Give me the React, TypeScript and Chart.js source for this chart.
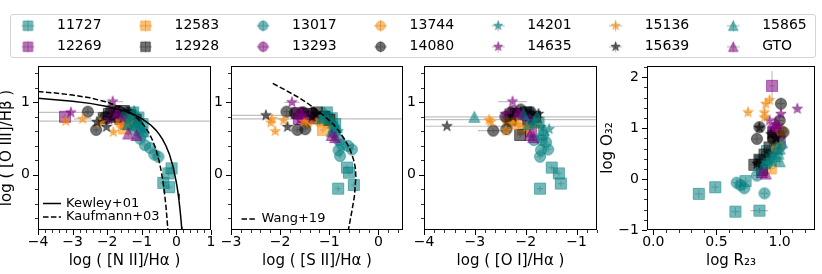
import React, { useEffect, useRef } from 'react';
import { Chart, registerables } from 'chart.js';

Chart.register(...registerables);

const FONT = 'DejaVu Sans';

// ---------------- DATA ----------------
const SERIES = ['11727', '12269', '12583', '12928', '13017', '13293', '13744', '14080', '14201', '14635', '15136', '15639', '15865', 'GTO'];

// points: [x, y, xerr?, yerr?] one list per series (same order as SERIES)
const NII_O3: number[][][] = [
  [[-0.14, 0.09], [-0.23, 0.02], [-0.38, -0.11], [-0.21, -0.17], [-1.25, 0.86], [-1.1, 0.79], [-0.98, 0.7], [-1.35, 0.78]],
  [[-3.22, 0.8], [-1.62, 0.77], [-1.45, 0.7]],
  [[-1.51, 0.64], [-1.28, 0.72]],
  [[-1.95, 0.84], [-1.72, 0.8], [-1.52, 0.88], [-1.35, 0.82], [-1.18, 0.76], [-2.1, 0.78]],
  [[-1.2, 0.62], [-1.05, 0.5], [-0.91, 0.41], [-0.76, 0.37], [-0.64, 0.28], [-0.52, 0.25], [-0.98, 0.57], [-1.3, 0.68]],
  [[-1.8, 0.87], [-1.48, 0.8]],
  [[-1.62, 0.72], [-1.4, 0.76]],
  [[-2.56, 0.87], [-2.32, 0.62], [-1.88, 0.9], [-1.66, 0.88], [-1.42, 0.86], [-2.05, 0.8]],
  [[-1.42, 0.74], [-1.12, 0.68], [-0.98, 0.64], [-1.25, 0.8]],
  [[-3.05, 0.86, 1.13, 0.04], [-1.84, 1.01, 0.3, 0.04], [-1.75, 0.82], [-1.55, 0.78], [-1.95, 0.76]],
  [[-3.2, 0.74, 4.5, 0.03], [-2.71, 0.77, 0.25, 0.03], [-1.82, 0.59], [-2.2, 0.72]],
  [[-2.3, 0.73], [-2.02, 0.66], [-1.85, 0.78], [-1.62, 0.84]],
  [[-1.5, 0.86], [-1.32, 0.8], [-1.15, 0.73], [-1.05, 0.66], [-1.22, 0.88], [-1.4, 0.7], [-0.95, 0.6]],
  [[-1.39, 0.57], [-1.15, 0.55], [-1.7, 0.86]],
];

const SII_O3: number[][][] = [
  [[-0.64, 0.1], [-0.6, 0.03], [-0.5, -0.14], [-0.82, -0.19], [-1.05, 0.86], [-0.95, 0.78], [-0.88, 0.7], [-1.12, 0.8]],
  [[-1.66, 0.85], [-1.5, 0.8], [-1.62, 0.77]],
  [[-1.13, 0.62], [-1.0, 0.72]],
  [[-1.42, 0.84], [-1.25, 0.86], [-1.1, 0.8], [-1.0, 0.76], [-1.3, 0.78]],
  [[-0.81, 0.48], [-0.54, 0.35], [-0.78, 0.26], [-0.81, 0.34], [-0.75, 0.42], [-0.62, 0.4], [-0.9, 0.58]],
  [[-1.55, 0.86], [-1.35, 0.8]],
  [[-1.45, 0.72], [-1.2, 0.74]],
  [[-1.87, 0.87], [-1.65, 0.62], [-1.49, 0.63], [-1.53, 0.86], [-1.34, 0.85], [-1.7, 0.85]],
  [[-1.05, 0.74], [-0.9, 0.66], [-0.82, 0.6], [-1.15, 0.8]],
  [[-1.76, 1.0, 0.15, 0.04], [-1.56, 0.82], [-1.4, 0.8], [-1.6, 0.76]],
  [[-2.17, 0.77, 3, 0.03], [-2.19, 0.72], [-2.1, 0.6], [-1.93, 0.75], [-1.51, 0.73]],
  [[-2.29, 0.82, 0.9, 0.03], [-1.85, 0.66], [-1.35, 0.8], [-1.28, 0.84]],
  [[-1.1, 0.86], [-1.0, 0.8], [-0.92, 0.72], [-0.85, 0.66], [-1.15, 0.78], [-0.95, 0.6]],
  [[-0.95, 0.55], [-0.88, 0.52], [-1.6, 0.86]],
];

const OI_O3: number[][][] = [
  [[-1.49, 0.1], [-1.35, 0.02], [-1.31, -0.12], [-1.72, -0.19], [-1.95, 0.86], [-1.85, 0.78], [-1.75, 0.72]],
  [[-2.15, 0.84], [-1.95, 0.82], [-1.9, 0.6]],
  [[-2.05, 0.64], [-1.8, 0.72]],
  [[-2.11, 0.55], [-2.2, 0.84], [-2.0, 0.86], [-1.82, 0.8], [-2.3, 0.76], [-1.95, 0.76]],
  [[-1.66, 0.55], [-1.69, 0.48], [-1.56, 0.35], [-1.7, 0.34], [-1.72, 0.25], [-1.84, 0.48], [-1.6, 0.45]],
  [[-2.25, 0.88], [-2.05, 0.82]],
  [[-2.35, 0.74], [-2.2, 0.7]],
  [[-2.64, 0.61, 0.3, 0.03], [-2.38, 0.63], [-2.3, 0.86], [-2.1, 0.9], [-1.9, 0.86], [-2.4, 0.8]],
  [[-1.54, 0.63], [-1.85, 0.74], [-1.7, 0.66], [-2.0, 0.8]],
  [[-2.26, 1.01, 0.28, 0.04], [-2.1, 0.82], [-1.95, 0.78], [-2.4, 0.84]],
  [[-2.72, 0.76, 2.5, 0.03], [-2.69, 0.73], [-2.39, 0.61], [-2.2, 0.76], [-1.98, 0.66]],
  [[-3.55, 0.67, 3.5, 0.03], [-2.25, 0.8], [-2.0, 0.86], [-1.75, 0.84]],
  [[-3.01, 0.8, 3, 0.03], [-1.82, 0.73], [-1.78, 0.8], [-1.95, 0.7], [-1.65, 0.62], [-2.05, 0.84]],
  [[-1.92, 0.55], [-1.85, 0.52], [-2.15, 0.86]],
];

const R23_O32: number[][][] = [
  [[0.36, -0.29], [0.49, -0.16], [0.65, -0.64], [0.84, -0.62, 0.07, 0.05], [0.73, -0.04], [0.85, 0.35], [0.9, 0.55], [0.93, 0.42]],
  [[0.94, 1.83, 0.02, 0.29], [0.95, 0.92], [1.0, 0.7]],
  [[0.93, 0.21], [0.98, 0.75]],
  [[0.8, 0.28], [0.84, 0.38], [0.88, 0.48], [0.86, 0.18], [0.95, 0.85], [0.92, 0.62]],
  [[0.66, -0.07], [0.69, -0.12], [0.72, -0.18], [0.88, -0.28], [0.82, 0.07], [0.85, 0.2], [0.9, 0.3]],
  [[0.95, 1.0], [1.0, 0.85]],
  [[0.98, 0.6], [1.01, 0.95]],
  [[1.01, 1.48], [0.84, 1.02], [0.82, 0.79], [1.0, 1.15], [1.03, 0.92], [0.95, 0.78]],
  [[0.95, 0.5], [0.98, 0.65], [0.9, 0.3], [1.0, 0.55]],
  [[1.14, 1.38], [1.01, 1.28], [0.92, 1.15], [0.96, 0.98], [0.99, 1.05]],
  [[0.75, 1.31], [0.89, 1.48], [0.92, 1.55], [0.88, 1.31], [0.88, 1.21]],
  [[0.84, 1.01], [0.93, 0.88], [0.97, 0.8], [0.82, 0.3]],
  [[0.96, 0.45], [1.0, 0.6], [1.02, 0.72], [0.93, 0.38], [0.99, 0.5], [1.0, 0.35]],
  [[0.86, 0.14], [0.89, 0.11], [0.97, 1.1]],
];

// demarcation curves
const KEWLEY_X = [-4, -3.5, -3, -2.5, -2, -1.5, -1.25, -1, -0.75, -0.6, -0.5, -0.4, -0.3, -0.2, -0.1, 0, 0.025, 0.05, 0.075, 0.1, 0.125, 0.15, 0.16];
const KEWLEY_Y = [1.054, 1.036, 1.014, 0.985, 0.943, 0.88, 0.835, 0.775, 0.69, 0.62, 0.561, 0.489, 0.398, 0.28, 0.12, -0.108, -0.181, -0.262, -0.354, -0.459, -0.578, -0.716, -0.778];
const KAUFF_X = [-4, -3.5, -3, -2.5, -2, -1.5, -1.25, -1, -0.9, -0.8, -0.7, -0.6, -0.5, -0.45, -0.4, -0.35, -0.3, -0.25, -0.24];
const KAUFF_Y = [1.149, 1.128, 1.1, 1.061, 1.002, 0.906, 0.831, 0.719, 0.658, 0.582, 0.487, 0.362, 0.191, 0.08, -0.056, -0.225, -0.443, -0.733, -0.803];
const WANG_X = [-2.15, -1.9, -1.66, -1.45, -1.29, -1.1, -0.92, -0.8, -0.68, -0.59, -0.51, -0.47, -0.46, -0.47, -0.49, -0.54, -0.61];
const WANG_Y = [1.26, 1.17, 1.08, 0.99, 0.91, 0.81, 0.7, 0.6, 0.48, 0.37, 0.22, 0.1, -0.02, -0.14, -0.3, -0.5, -0.75];

// tick values
const NII_TICKS = [-4, -3, -2, -1, 0, 1];
const SII_TICKS = [-3, -2, -1, 0];
const OI_TICKS = [-4, -3, -2, -1];
const O3_TICKS = [0, 1];
const R23_TICKS = [0, 0.5, 1];
const O32_TICKS = [-1, 0, 1, 2];

// ---------------- STYLE ----------------
const RGB = ['0,128,128', '128,0,128', '255,140,0', '0,0,0'];
const SHAPES = ['square', 'circle', 'star', 'triangle'];
const ALPHA = 0.55;

function pathShape(ctx: CanvasRenderingContext2D, shape: string, cx: number, cy: number, ms: number) {
  const r = ms / 2;
  ctx.beginPath();
  if (shape === 'square') {
    ctx.rect(cx - r, cy - r, ms, ms);
  } else if (shape === 'circle') {
    ctx.arc(cx, cy, r, 0, Math.PI * 2);
  } else if (shape === 'triangle') {
    ctx.moveTo(cx, cy - r);
    ctx.lineTo(cx - r, cy + r);
    ctx.lineTo(cx + r, cy + r);
    ctx.closePath();
  } else {
    const ri = r * 0.381966;
    for (let k = 0; k < 10; k++) {
      const ang = -Math.PI / 2 + (k * Math.PI) / 5;
      const rr = k % 2 === 0 ? r : ri;
      const px = cx + rr * Math.cos(ang);
      const py = cy + rr * Math.sin(ang);
      if (k === 0) ctx.moveTo(px, py);
      else ctx.lineTo(px, py);
    }
    ctx.closePath();
  }
}

function makeMarker(shape: string, rgb: string, ms: number, shift: number, crossW: number, crossH: number) {
  const w = 2 * Math.ceil(Math.max(ms, crossW) / 2 + Math.abs(shift) + 2);
  const h = 2 * Math.ceil(Math.max(ms, crossH) / 2 + 2);
  const c = document.createElement('canvas');
  c.width = w;
  c.height = h;
  const ctx = c.getContext('2d')!;
  const cx = w / 2 + shift;
  const cy = h / 2;
  if (crossW > 0) {
    ctx.strokeStyle = 'rgba(120,120,120,0.6)';
    ctx.lineWidth = 1;
    ctx.beginPath();
    ctx.moveTo(cx - crossW / 2, cy);
    ctx.lineTo(cx + crossW / 2, cy);
    ctx.moveTo(cx, cy - crossH / 2);
    ctx.lineTo(cx, cy + crossH / 2);
    ctx.stroke();
  }
  pathShape(ctx, shape, cx, cy, ms);
  ctx.fillStyle = `rgba(${rgb},${ALPHA})`;
  ctx.fill();
  ctx.strokeStyle = `rgba(${rgb},${ALPHA})`;
  ctx.lineWidth = 1;
  ctx.stroke();
  return c;
}

const minus = (s: string) => s.replace('-', '\u2212');
const fmt0 = (v: number) => minus(String(Math.round(v)));
const fmt1 = (v: number) => minus(v.toFixed(1));

// ---------------- PLUGINS ----------------
const errorBarPlugin = {
  id: 'errBars',
  beforeDatasetsDraw(chart: any) {
    const { ctx, chartArea: a, scales } = chart;
    const xs = scales.x;
    const ys = scales.y;
    ctx.save();
    ctx.beginPath();
    ctx.rect(a.left, a.top, a.right - a.left, a.bottom - a.top);
    ctx.clip();
    ctx.strokeStyle = 'rgba(140,140,140,0.55)';
    ctx.lineWidth = 1.2;
    chart.data.datasets.forEach((ds: any) => {
      if (!ds.errorBars) return;
      ds.data.forEach((p: any) => {
        const px = xs.getPixelForValue(p.x);
        const py = ys.getPixelForValue(p.y);
        ctx.beginPath();
        if (p.xe) {
          ctx.moveTo(xs.getPixelForValue(p.x - p.xe), py);
          ctx.lineTo(xs.getPixelForValue(p.x + p.xe), py);
        }
        if (p.ye) {
          ctx.moveTo(px, ys.getPixelForValue(p.y - p.ye));
          ctx.lineTo(px, ys.getPixelForValue(p.y + p.ye));
        }
        ctx.stroke();
      });
    });
    ctx.restore();
  },
};

function minorValues(min: number, max: number, step: number, majors: number[]) {
  const out: number[] = [];
  if (!step) return out;
  const start = Math.ceil(min / step - 1e-9);
  const end = Math.floor(max / step + 1e-9);
  for (let k = start; k <= end; k++) {
    const v = k * step;
    if (majors.some((m) => Math.abs(m - v) < step / 10)) continue;
    out.push(v);
  }
  return out;
}

const frameTicksPlugin = {
  id: 'frameTicks',
  afterDraw(chart: any, _args: any, opts: any) {
    const { ctx, chartArea: a, scales } = chart;
    const xs = scales.x;
    const ys = scales.y;
    ctx.save();
    ctx.strokeStyle = '#000';
    ctx.lineWidth = 1;
    ctx.strokeRect(a.left + 0.5, a.top + 0.5, a.right - a.left - 1, a.bottom - a.top - 1);
    const dx = (v: number, len: number) => {
      const p = Math.round(xs.getPixelForValue(v)) + 0.5;
      ctx.moveTo(p, a.bottom);
      ctx.lineTo(p, a.bottom + len);
    };
    const dy = (v: number, len: number) => {
      const p = Math.round(ys.getPixelForValue(v)) + 0.5;
      ctx.moveTo(a.left, p);
      ctx.lineTo(a.left - len, p);
    };
    const xMaj = xs.ticks.map((t: any) => t.value);
    const yMaj = ys.ticks.map((t: any) => t.value);
    ctx.beginPath();
    xMaj.forEach((v: number) => dx(v, 5));
    yMaj.forEach((v: number) => dy(v, 5));
    ctx.stroke();
    ctx.beginPath();
    ctx.lineWidth = 0.8;
    minorValues(xs.min, xs.max, opts.xMinor, xMaj).forEach((v) => dx(v, 3));
    minorValues(ys.min, ys.max, opts.yMinor, yMaj).forEach((v) => dy(v, 3));
    ctx.stroke();
    ctx.restore();
  },
};

const lineLegendPlugin = {
  id: 'lineLegend',
  afterDraw(chart: any, _args: any, opts: any) {
    const items = chart.data.datasets.filter((d: any) => d.inLegend);
    if (!items.length) return;
    const { ctx, chartArea: a } = chart;
    ctx.save();
    ctx.font = `13px "${FONT}"`;
    ctx.textBaseline = 'middle';
    ctx.textAlign = 'left';
    ctx.fillStyle = '#000';
    const n = items.length;
    items.forEach((d: any, i: number) => {
      const yc = a.bottom - opts.bottom - (n - 1 - i) * opts.row;
      ctx.strokeStyle = d.borderColor;
      ctx.lineWidth = d.borderWidth;
      ctx.setLineDash(d.borderDash || []);
      ctx.beginPath();
      ctx.moveTo(a.left + opts.x0, yc);
      ctx.lineTo(a.left + opts.x1, yc);
      ctx.stroke();
      ctx.setLineDash([]);
      ctx.fillText(d.label, a.left + opts.tx, yc);
    });
    ctx.restore();
  },
};

// ---------------- PANELS ----------------
const DASH = [5.5, 2.4];
const toPts = (xs: number[], ys: number[]) => xs.map((x, i) => ({ x, y: ys[i] }));

const PANELS = [
  {
    data: NII_O3, xMin: -4, xMax: 1, yMin: -0.76, yMax: 1.5, xTicks: NII_TICKS, yTicks: O3_TICKS,
    xFmt: fmt0, yFmt: fmt0, xTitle: 'log ( [N II]/H\u03b1 )', yTitle: 'log ( [O III]/H\u03b2 )',
    padLeft: 0, yW: 38, padRight: 611, err: [0.09, 0.04], xMinor: 0.2, yMinor: 0.2, yTitlePad: -1.5,
    curves: [
      { label: 'Kewley+01', x: KEWLEY_X, y: KEWLEY_Y, dash: [] as number[] },
      { label: 'Kaufmann+03', x: KAUFF_X, y: KAUFF_Y, dash: DASH },
    ],
    leg: { x0: 5, x1: 23, tx: 28, bottom: 13, row: 13.5 },
  },
  {
    data: SII_O3, xMin: -3, xMax: 0.5, yMin: -0.76, yMax: 1.5, xTicks: SII_TICKS, yTicks: O3_TICKS,
    xFmt: fmt0, yFmt: fmt0, xTitle: 'log ( [S II]/H\u03b1 )', yTitle: '',
    padLeft: 214, yW: 17, padRight: 419, err: [0.06, 0.04], xMinor: 0.2, yMinor: 0.2, yTitlePad: 0,
    curves: [{ label: 'Wang+19', x: WANG_X, y: WANG_Y, dash: DASH }],
    leg: { x0: 10.5, x1: 26, tx: 30.5, bottom: 11, row: 13.5 },
  },
  {
    data: OI_O3, xMin: -4, xMax: -0.6, yMin: -0.76, yMax: 1.5, xTicks: OI_TICKS, yTicks: O3_TICKS,
    xFmt: fmt0, yFmt: fmt0, xTitle: 'log ( [O I]/H\u03b1 )', yTitle: '',
    padLeft: 406, yW: 18, padRight: 225, err: [0.06, 0.04], xMinor: 0.2, yMinor: 0.2, yTitlePad: 0,
    curves: [],
    leg: { x0: 5, x1: 23, tx: 28, bottom: 13, row: 13.5 },
  },
  {
    data: R23_O32, xMin: -0.05, xMax: 1.28, yMin: -1, yMax: 2.22, xTicks: R23_TICKS, yTicks: O32_TICKS,
    xFmt: fmt1, yFmt: fmt0, xTitle: 'log R\u2082\u2083', yTitle: 'log O\u2083\u2082',
    padLeft: 600, yW: 47, padRight: 3, err: [0.03, 0.08], xMinor: 0.1, yMinor: 0.2, yTitlePad: -1,
    curves: [],
    leg: { x0: 5, x1: 23, tx: 28, bottom: 13, row: 13.5 },
  },
];

function buildPanel(canvas: HTMLCanvasElement, P: any, imgs: HTMLCanvasElement[]) {
  const datasets: any[] = P.data.map((pts: number[][], i: number) => ({
    label: SERIES[i],
    data: pts.map((p) => ({ x: p[0], y: p[1], xe: p[2] ?? P.err[0], ye: p[3] ?? P.err[1] })),
    pointStyle: imgs[i],
    pointRadius: 6,
    pointHoverRadius: 6,
    showLine: false,
    order: 100 - i,
    errorBars: true,
  }));
  P.curves.forEach((c: any) => {
    datasets.push({
      label: c.label,
      data: toPts(c.x, c.y),
      showLine: true,
      pointRadius: 0,
      pointHoverRadius: 0,
      borderColor: '#000',
      backgroundColor: '#000',
      borderWidth: 1.5,
      borderDash: c.dash,
      tension: 0,
      fill: false,
      clip: 0,
      order: -1,
      inLegend: true,
    });
  });
  const tickFont = { family: FONT, size: 14, lineHeight: 1 };
  const titleFont = { family: FONT, size: 15 };
  return new Chart(canvas, {
    type: 'scatter',
    data: { datasets },
    plugins: [errorBarPlugin, frameTicksPlugin, lineLegendPlugin],
    options: {
      animation: false,
      responsive: false,
      devicePixelRatio: 1,
      events: [],
      layout: { padding: { left: P.padLeft, right: P.padRight, top: 66, bottom: 0 } },
      plugins: {
        legend: { display: false },
        tooltip: { enabled: false },
        frameTicks: { xMinor: P.xMinor, yMinor: P.yMinor },
        lineLegend: P.leg,
      },
      scales: {
        x: {
          type: 'linear',
          position: 'bottom',
          min: P.xMin,
          max: P.xMax,
          afterBuildTicks: (s: any) => {
            s.ticks = P.xTicks.map((v: number) => ({ value: v }));
          },
          afterFit: (s: any) => {
            s.height = 44;
            s.paddingLeft = 0;
            s.paddingRight = 0;
          },
          grid: { display: false, drawTicks: true, tickLength: 5 },
          border: { display: false },
          ticks: {
            autoSkip: false,
            maxRotation: 0,
            minRotation: 0,
            padding: 0,
            color: '#000',
            font: tickFont,
            callback: (v: any) => P.xFmt(Number(v)),
          },
          title: { display: true, text: P.xTitle, color: '#000', font: titleFont, padding: { top: 0, bottom: 4 } },
        },
        y: {
          type: 'linear',
          position: 'left',
          min: P.yMin,
          max: P.yMax,
          afterBuildTicks: (s: any) => {
            s.ticks = P.yTicks.map((v: number) => ({ value: v }));
          },
          afterFit: (s: any) => {
            s.width = P.yW;
            s.paddingTop = 0;
            s.paddingBottom = 0;
          },
          grid: { display: false, drawTicks: true, tickLength: 5 },
          border: { display: false },
          ticks: {
            autoSkip: false,
            padding: 3,
            color: '#000',
            font: tickFont,
            callback: (v: any) => P.yFmt(Number(v)),
          },
          title: {
            display: !!P.yTitle,
            text: P.yTitle,
            color: '#000',
            font: titleFont,
            padding: { top: P.yTitlePad, bottom: 0 },
          },
        },
      },
    } as any,
  } as any);
}

// legend column-major order (matplotlib ncol = 7)
const LEGEND_ORDER = [0, 2, 4, 6, 8, 10, 12, 1, 3, 5, 7, 9, 11, 13];

export default function App() {
  const legendRef = useRef<HTMLCanvasElement>(null);
  const r0 = useRef<HTMLCanvasElement>(null);
  const r1 = useRef<HTMLCanvasElement>(null);
  const r2 = useRef<HTMLCanvasElement>(null);
  const r3 = useRef<HTMLCanvasElement>(null);
  const refs = [r0, r1, r2, r3];

  useEffect(() => {
    Chart.defaults.font.family = FONT;
    Chart.defaults.color = '#000';
    const plotImgs = SERIES.map((_, i) => makeMarker(SHAPES[Math.floor(i / 4)], RGB[i % 4], 11, 0, 0, 0));
    const legImgs = SERIES.map((_, i) => makeMarker(SHAPES[Math.floor(i / 4)], RGB[i % 4], 9.5, 7.5, 13, 11));
    const charts: Chart[] = [];

    charts.push(
      new Chart(legendRef.current!, {
        type: 'scatter',
        data: { datasets: SERIES.map((s) => ({ label: s, data: [] })) },
        options: {
          animation: false,
          responsive: false,
          devicePixelRatio: 1,
          events: [],
          layout: { padding: { top: 11.7, left: 0, right: 0, bottom: 0 } },
          scales: { x: { display: false }, y: { display: false } },
          plugins: {
            tooltip: { enabled: false },
            legend: {
              display: true,
              position: 'top',
              align: 'start',
              maxHeight: 300,
              labels: {
                usePointStyle: true,
                pointStyleWidth: 59,
                padding: 7,
                color: '#000',
                font: { family: FONT, size: 14 },
                generateLabels: () =>
                  LEGEND_ORDER.map((i) => ({
                    text: SERIES[i],
                    pointStyle: legImgs[i],
                    fillStyle: 'rgba(0,0,0,0)',
                    strokeStyle: 'rgba(0,0,0,0)',
                    lineWidth: 0,
                    hidden: false,
                    datasetIndex: i,
                    fontColor: '#000',
                  })),
              },
            },
          },
        } as any,
      } as any)
    );

    PANELS.forEach((P, k) => {
      charts.push(buildPanel(refs[k].current!, P, plotImgs));
    });

    return () => charts.forEach((c) => c.destroy());
  }, []);

  return (
    <div style={{ position: 'absolute', left: 0, top: 0, width: 822, height: 274, background: '#fff', overflow: 'hidden' }}>
      <div
        style={{
          position: 'absolute',
          left: 10,
          top: 14,
          width: 806,
          height: 44,
          border: '1px solid #d4d4d4',
          borderRadius: 3,
          boxSizing: 'border-box',
        }}
      />
      <canvas ref={legendRef} width={845} height={110} style={{ position: 'absolute', left: -16, top: 0 }} />
      {refs.map((r, i) => (
        <canvas key={i} ref={r} width={822} height={274} style={{ position: 'absolute', left: 0, top: 0 }} />
      ))}
    </div>
  );
}
